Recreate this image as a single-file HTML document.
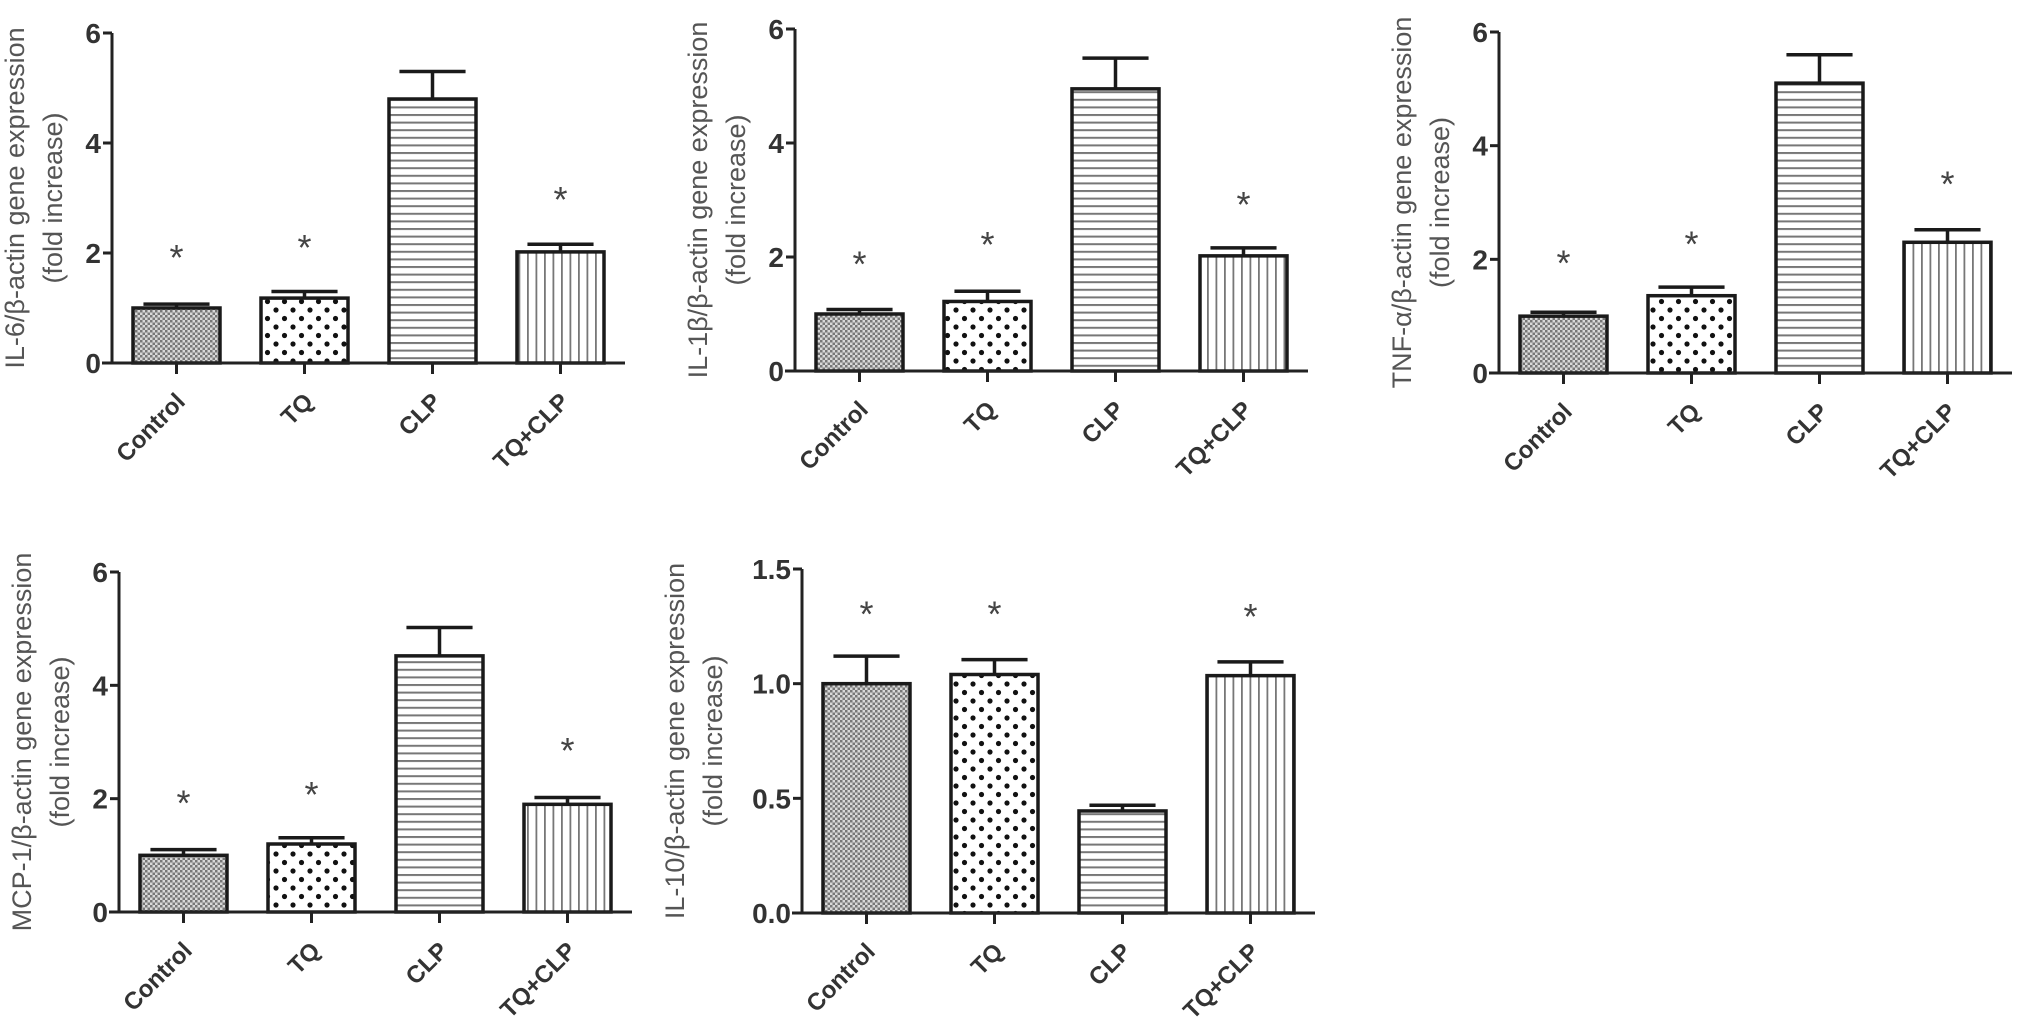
<!DOCTYPE html>
<html><head><meta charset="utf-8"><style>
html,body{margin:0;padding:0;background:#fff}
svg{display:block}
text{font-family:"Liberation Sans",Arial,sans-serif}
</style></head><body>
<svg id="fig" width="2031" height="1031" viewBox="0 0 2031 1031" xmlns="http://www.w3.org/2000/svg">
<defs>
<pattern id="pCtrl" width="5" height="5" patternUnits="userSpaceOnUse">
<rect width="5" height="5" fill="#d8d8d8"/><rect width="2.5" height="2.5" fill="#777"/><rect x="2.5" y="2.5" width="2.5" height="2.5" fill="#777"/></pattern>
<pattern id="pTQ" width="17" height="17" patternUnits="userSpaceOnUse">
<rect width="17" height="17" fill="#fff"/><circle cx="4" cy="4" r="2.6" fill="#111"/><circle cx="12.5" cy="12.5" r="2.6" fill="#111"/></pattern>
<pattern id="pCLP" width="8" height="7.6" patternUnits="userSpaceOnUse">
<rect width="8" height="7.6" fill="#fff"/><rect y="0" width="8" height="2" fill="#777"/></pattern>
<pattern id="pTC" width="8.5" height="8" patternUnits="userSpaceOnUse">
<rect width="8.5" height="8" fill="#fff"/><rect x="0" width="1.8" height="8" fill="#777"/></pattern>
</defs>
</svg>
<script>
const categories = ["Control","TQ","CLP","TQ+CLP"];
const il6Means = [1.0,1.18,4.8,2.02];
const il6Errs = [0.07,0.12,0.5,0.14];
const il6Stars = [1.95,2.13,null,3.0];
const il1bMeans = [1.0,1.22,4.95,2.02];
const il1bErrs = [0.08,0.18,0.54,0.14];
const il1bStars = [1.9,2.25,null,2.95];
const tnfMeans = [1.0,1.36,5.1,2.3];
const tnfErrs = [0.07,0.15,0.5,0.22];
const tnfStars = [1.96,2.3,null,3.35];
const mcpMeans = [1.0,1.2,4.52,1.9];
const mcpErrs = [0.1,0.11,0.5,0.12];
const mcpStars = [1.95,2.1,null,2.88];
const il10Means = [1.0,1.04,0.445,1.035];
const il10Errs = [0.12,0.065,0.025,0.06];
const il10Stars = [1.31,1.31,null,1.30];
const ticks6 = [0,2,4,6];
const ticks15 = [0,0.5,1.0,1.5];
const tickLabels15 = ["0.0","0.5","1.0","1.5"];

const NS="http://www.w3.org/2000/svg";
const svg=document.getElementById('fig');
const fills=["url(#pCtrl)","url(#pTQ)","url(#pCLP)","url(#pTC)"];
function mk(tag,attrs,parent){const e=document.createElementNS(NS,tag);for(const k in attrs)e.setAttribute(k,attrs[k]);(parent||svg).appendChild(e);return e;}

function panel(name,ax,y0,ytop,ymax,ticks,tlabels,means,errs,stars,title,tOff){
  const g=mk('g',{});
  
  
  const yS=v=>y0-(v/ymax)*(y0-ytop);
  const step=128,bw=87,off=21;
  const xS=i=>ax+off+bw/2+i*step;
  const xEnd=ax+off+3*step+bw+21;
  means.forEach((m,i)=>{
    const cx=xS(i);
    const e=errs[i];
    const eb=mk('path',{d:`M${cx},${yS(m)} V${yS(m+e)} M${cx-bw*0.38},${yS(m+e)} H${cx+bw*0.38}`,stroke:'#1a1a1a','stroke-width':3.5,fill:'none'},g);
    
    
    const r=mk('rect',{x:cx-bw/2,y:yS(m),width:bw,height:y0-yS(m),fill:fills[i],stroke:'#1a1a1a','stroke-width':3.5},g);
    
    
    if(stars[i]!=null){
      const s=mk('text',{x:cx,y:yS(stars[i])+14,'text-anchor':'middle','font-size':36,fill:'#444'},g);
      s.textContent='*';
      
      
    }
    const t=mk('line',{x1:cx,x2:cx,y1:y0,y2:y0+11,stroke:'#222','stroke-width':3},g);
    
    
    const lx=cx+10,ly=y0+40;
    const l=mk('text',{x:lx,y:ly,'text-anchor':'end','font-size':24,'font-weight':'bold',fill:'#333',transform:`rotate(-45 ${lx} ${ly})`},g);
    l.textContent=categories[i];
    
    
  });
  const ya=mk('line',{x1:ax,x2:ax,y1:ytop,y2:y0,stroke:'#222','stroke-width':3},g);
  
  
  const xa=mk('line',{x1:ax-10,x2:xEnd,y1:y0,y2:y0,stroke:'#222','stroke-width':3},g);
  
  
  ticks.forEach((v,i)=>{
    const tk=mk('line',{x1:ax-9,x2:ax,y1:yS(v),y2:yS(v),stroke:'#222','stroke-width':3},g);
    
    
    const tl=mk('text',{x:ax-11,y:yS(v)+10,'text-anchor':'end','font-size':28,'font-weight':'bold',fill:'#333'},g);
    tl.textContent=tlabels[i];
    
    
  });
  const cy=(ytop+y0)/2;
  const tt=mk('text',{'text-anchor':'middle','font-size':27,fill:'#555',transform:`translate(${ax-tOff} ${cy}) rotate(-90)`},g);
  
  
  const s1=mk('tspan',{x:0,dy:0},tt);s1.textContent=title;
  const s2=mk('tspan',{x:0,dy:38},tt);s2.textContent='(fold increase)';
}
const t6=ticks6.map(String);
panel('il6',112,363,33,6,ticks6,t6,il6Means,il6Errs,il6Stars,'IL-6/β-actin gene expression',88);
panel('il1b',795,371,29,6,ticks6,t6,il1bMeans,il1bErrs,il1bStars,'IL-1β/β-actin gene expression',88);
panel('tnf',1499,373,32,6,ticks6,t6,tnfMeans,tnfErrs,tnfStars,'TNF-α/β-actin gene expression',88);
panel('mcp1',119,912,572,6,ticks6,t6,mcpMeans,mcpErrs,mcpStars,'MCP-1/β-actin gene expression',88);
panel('il10',802,913,569,1.5,ticks15,tickLabels15,il10Means,il10Errs,il10Stars,'IL-10/β-actin gene expression',118);
</script>
</body></html>
